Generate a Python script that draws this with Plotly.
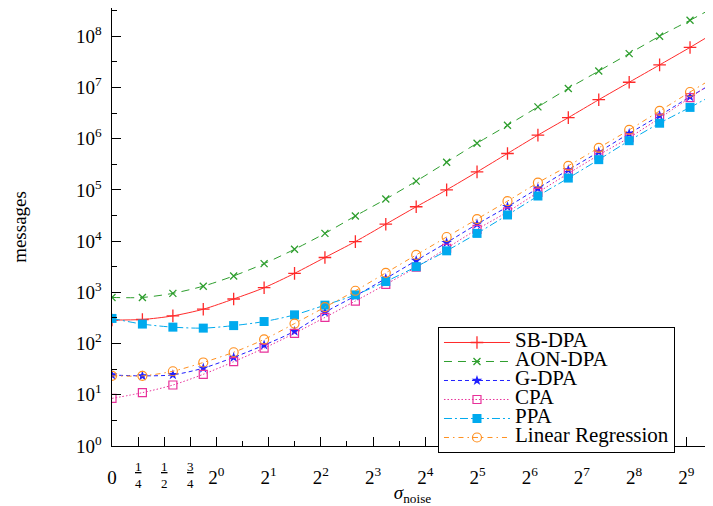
import math
import plotly.graph_objects as go

# ---- data ----
sigma = [0, 0.291, 0.583, 0.874, 1.257, 1.883, 2.82, 4.222, 6.324, 9.47,
         14.18, 21.24, 31.8, 47.64, 71.35, 106.8, 160.0, 239.6, 358.8, 537.4]
sigma_end = 729  # right edge of the visible plot

sb_dpa = [288, 295, 347, 468, 741, 1230, 2344, 4786, 9772, 21380, 46770,
          100000, 224000, 513000, 1170000, 2570000, 5750000, 12600000,
          27500000, 60300000]
sb_dpa_end = 112000000

aon_dpa = [794, 794, 955, 1318, 2089, 3631, 6918, 14125, 30900, 66070, 147900,
           346700, 812800, 1820000, 4170000, 9550000, 20900000, 45700000,
           100000000, 204000000]
aon_dpa_end = 355000000

g_dpa = [24.3, 23.4, 24.5, 33.1, 53.7, 93.3, 173.8, 407, 851, 1862, 4169,
         9333, 21380, 46770, 107150, 245500, 549500, 1260000, 2820000, 6610000]
g_dpa_end = 12000000

cpa = [8.5, 11.0, 15.5, 25.1, 44.2, 81.3, 158.5, 323.6, 676, 1429, 3090,
       7244, 16980, 37150, 89130, 208900, 478600, 1050000, 2510000, 6310000]
cpa_end = 12600000

ppa = [309, 240, 209, 200, 224, 269, 363, 562, 891, 1622, 3162, 6457, 14125,
       32360, 75860, 169800, 389000, 912000, 2000000, 4070000]
ppa_end = 7080000

lin_reg = [23.4, 23.4, 28.8, 42.7, 67.6, 120.2, 245.5, 512.9, 1072, 2399,
           5370, 12020, 26920, 60260, 138000, 295100, 660700, 1480000,
           3470000, 8130000]
lin_reg_end = 15100000

x_tick_sigma = [0, 0.25, 0.5, 0.75, 1, 2, 4, 8, 16, 32, 64, 128, 256, 512]
x_tick_text = ["0", "", "", "", "2<sup>0</sup>", "2<sup>1</sup>", "2<sup>2</sup>",
               "2<sup>3</sup>", "2<sup>4</sup>", "2<sup>5</sup>", "2<sup>6</sup>",
               "2<sup>7</sup>", "2<sup>8</sup>", "2<sup>9</sup>"]
frac_sigma = [0.25, 0.5, 0.75]
frac_num = ["1", "1", "3"]
frac_den = ["4", "2", "4"]
x_minor_sigma = [2 ** (k + 0.5) for k in range(10)]

y_exponents = list(range(0, 9))


# piecewise axis scale: linear on [0,1], log2 above 1
def axis_pos(s):
    return 2 * s - 2 if s <= 1 else math.log2(s)


xs = [axis_pos(s) for s in sigma]
x_end = axis_pos(sigma_end)

FONT = "Liberation Serif"

series = [
    ("SB-DPA", sb_dpa, sb_dpa_end, "#ff2a2a", "solid", "cross-thin", 9, 1.3),
    ("AON-DPA", aon_dpa, aon_dpa_end, "#2e9e2e", "8px,6px", "x-thin", 7, 1.3),
    ("G-DPA", g_dpa, g_dpa_end, "#2020ff", "4px,3px", "star", 8, 0),
    ("CPA", cpa, cpa_end, "#e8309a", "1.5px,2px", "square-open", 8, 1.2),
    ("PPA", ppa, ppa_end, "#00aaee", "8px,3px,2px,3px", "square", 9, 0),
    ("Linear Regression", lin_reg, lin_reg_end, "#ff9020", "5px,4px,1.5px,4px",
     "circle-open", 9, 1.2),
]

fig = go.Figure()
for name, ys, yend, color, dash, symbol, msize, mlw in series:
    fig.add_trace(go.Scatter(
        x=[xs[-1], x_end], y=[ys[-1], yend], mode="lines",
        line=dict(color=color, width=1, dash=dash),
        showlegend=False, hoverinfo="skip"))
    fig.add_trace(go.Scatter(
        x=xs, y=ys, mode="lines+markers",
        name="<span style='font-size:21px'>%s</span>" % name,
        line=dict(color=color, width=1, dash=dash, shape="spline", smoothing=0.8),
        marker=dict(symbol=symbol, size=msize, color=color,
                    line=dict(color=color, width=mlw)),
    ))

annotations = []
for s, n, d in zip(frac_sigma, frac_num, frac_den):
    annotations.append(dict(
        x=axis_pos(s), y=0, xref="x", yref="paper", yanchor="top",
        yshift=-11, showarrow=False, align="center",
        text="<u>%s</u><br>%s" % (n, d),
        font=dict(family=FONT, size=13, color="black")))

# the page body adds an 8px offset, so the figure is 8px smaller on each side
fig.update_layout(
    width=705, height=498,
    margin=dict(l=104, r=0, t=0, b=60, autoexpand=False),
    paper_bgcolor="white", plot_bgcolor="white",
    font=dict(family=FONT, size=19, color="black"),
    showlegend=True,
    legend=dict(
        x=0.5424, y=0.2717, xanchor="left", yanchor="top",
        bgcolor="white", bordercolor="black", borderwidth=1,
        font=dict(family=FONT, size=12, color="black"),
        itemwidth=66, tracegroupgap=0,
    ),
    annotations=annotations,
)

fig.update_xaxes(
    type="linear", range=[axis_pos(0), x_end], automargin=False,
    showline=True, linecolor="black", linewidth=1.2, mirror=False,
    showgrid=False, zeroline=False,
    tickmode="array", tickvals=[axis_pos(s) for s in x_tick_sigma],
    ticktext=x_tick_text, ticks="inside", ticklen=9, tickcolor="black",
    tickwidth=1, ticklabelstandoff=14,
    tickfont=dict(family=FONT, size=19),
    minor=dict(tickmode="array", tickvals=[axis_pos(s) for s in x_minor_sigma],
               ticks="inside", ticklen=5, tickcolor="black", tickwidth=1),
    title=dict(text="<i>σ</i><sub>noise</sub>", font=dict(family=FONT, size=19),
               standoff=3),
)

fig.update_yaxes(
    type="log", range=[0, 8.55], automargin=False,
    showline=True, linecolor="black", linewidth=1.2,
    showgrid=False, zeroline=False,
    tickmode="array", tickvals=[10 ** e for e in y_exponents],
    ticktext=["10<sup>%d</sup>\u2009\u200a" % e for e in y_exponents],
    ticks="inside", ticklen=9, tickcolor="black", tickwidth=1,
    tickfont=dict(family=FONT, size=19),
    minor=dict(tickmode="array", tickvals=[10 ** (e + 0.5) for e in y_exponents],
               ticks="inside", ticklen=5, tickcolor="black", tickwidth=1),
    title=dict(text="messages", font=dict(family=FONT, size=19), standoff=44),
)

fig.write_html("out.html")
